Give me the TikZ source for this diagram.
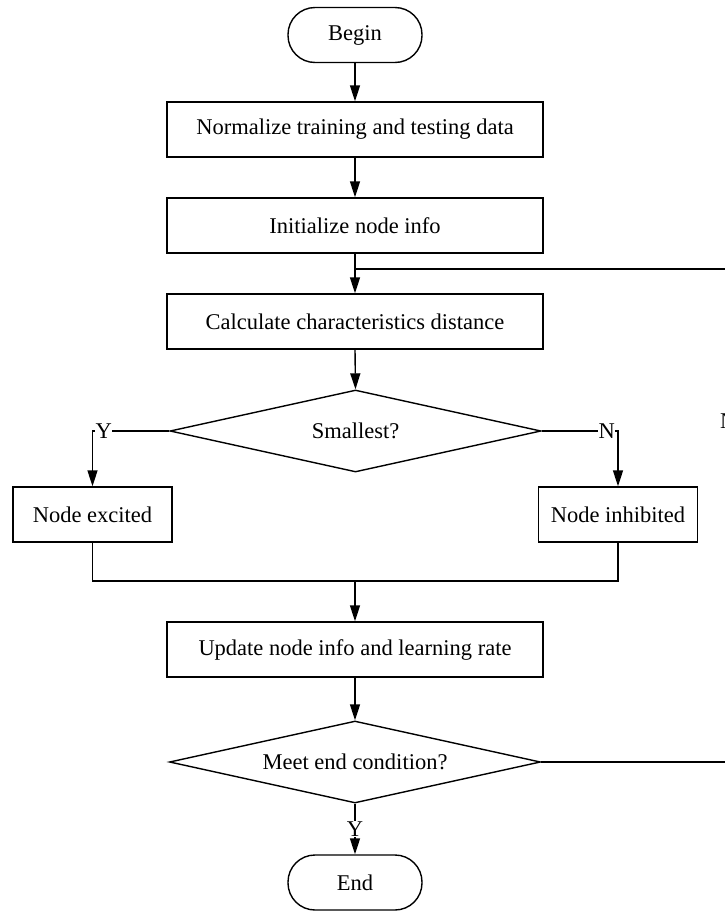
\documentclass[tikz,border=0pt]{standalone}
\usepackage{fontspec}
\setmainfont{Liberation Serif}
\usetikzlibrary{shapes.geometric,arrows.meta}
\begin{document}
\begin{tikzpicture}[x=1pt,y=-1pt,line width=1.4pt,
  >={Triangle[length=16pt,width=10pt]},
  font=\fontsize{22.5}{26}\selectfont,
  proc/.style={draw,rectangle,minimum width=376pt,minimum height=55pt,inner sep=0pt},
  sidebox/.style={draw,rectangle,minimum width=159pt,minimum height=55pt,inner sep=0pt},
  term/.style={draw,rectangle,rounded corners=27pt,minimum width=134pt,minimum height=55pt,inner sep=0pt},
  dec/.style={draw,diamond,aspect=4.5,minimum width=371pt,minimum height=82pt,inner sep=0pt},
  lab/.style={fill=white,inner sep=0.5pt}]
\useasboundingbox (0,0) rectangle (725,911);
\node[term] (begin) at (355,35) {Begin};
\node[proc] (n1) at (355,129.5) {Normalize training and testing data};
\node[proc] (n2) at (355,225.5) {Initialize node info};
\node[proc] (n3) at (355,321.5) {Calculate characteristics distance};
\node[dec] (d1) at (355.5,431) {Smallest?};
\node[sidebox] (ex) at (92.5,514.5) {Node excited};
\node[sidebox] (inh) at (618,514.5) {Node inhibited};
\node[proc] (up) at (355,649.5) {Update node info and learning rate};
\node[dec] (d2) at (355,762) {Meet end condition?};
\node[term] (end) at (355,882.5) {End};
\coordinate (m) at (355,581);
\coordinate (lp) at (355,269);
\coordinate (rc) at (726,269);

\draw[->] (begin) -- (n1);
\draw[->] (n1) -- (n2);
\draw[->] (n2) -- (n3);
\draw[->] (n3.south) -- (d1.north);
\draw[->] (d1.west) -| (ex.north);
\node[lab,anchor=west] (ylab) at (94.5,431) {Y};
\draw[->] (d1.east) -| (inh.north);
\node[lab,anchor=east] (nlab) at (616,431) {N};
\draw (ex.south) |- (m) -| (inh.south);
\draw[->] (m) -- (up.north);
\draw[->] (up.south) -- (d2.north);
\draw[->] (d2.south) -- node[lab] (yend) {Y} (end.north);
\draw (d2.east) -| (rc) -- (lp);
\node[anchor=west,inner sep=0pt] (nloop) at (719.5,421) {N};
\end{tikzpicture}
\end{document}
